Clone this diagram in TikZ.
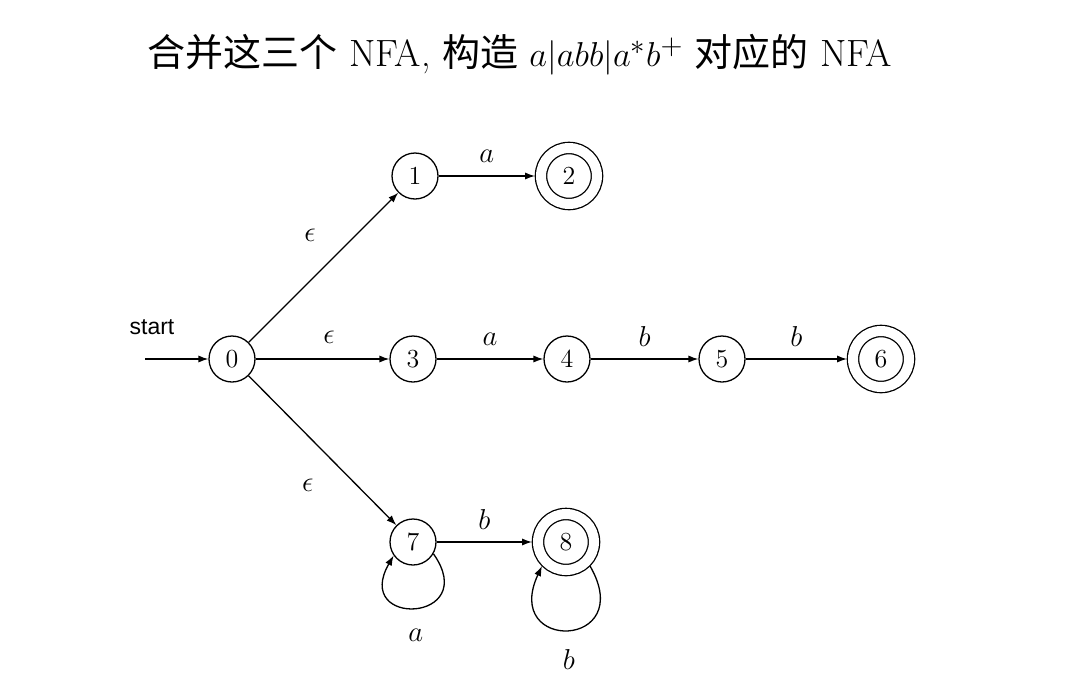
\documentclass[tikz,border=0pt]{standalone}
\usepackage{fontspec}
\newfontfamily\cjk{Noto Sans CJK SC}
\newfontfamily\startfont{Liberation Sans}
\usetikzlibrary{arrows.meta}

\begin{document}
\begin{tikzpicture}[x=0.5pt, y=0.5pt, line width=0.65pt,
                    >={Latex[length=5pt, width=3.6pt]},
                    state/.style={circle, draw, minimum size=23pt, inner sep=0pt, font=\fontsize{13}{15}\selectfont},
                    final/.style={state, double, double distance=5pt, minimum size=28pt, outer sep=3pt},
                    lab/.style={font=\fontsize{13.5}{15}\selectfont}]
\useasboundingbox[fill=white] (0,0) rectangle (1092,-686);

\node[font=\fontsize{19}{23}\selectfont] (title) at (520,-55)
    {{\cjk 合并这三个} NFA, {\cjk 构造} $a|abb|a^*b^+$ {\cjk 对应的} NFA};

\node[state] (n0) at (232,-359) {0};
\node[state] (n1) at (415,-176) {1};
\node[final] (n2) at (569,-176) {2};
\node[state] (n3) at (413,-359) {3};
\node[state] (n4) at (567,-359) {4};
\node[state] (n5) at (722,-359) {5};
\node[final] (n6) at (881,-359) {6};
\node[state] (n7) at (413,-542) {7};
\node[final] (n8) at (566,-542) {8};

\node[font=\startfont\fontsize{11.5}{14}\selectfont] (start) at (152,-327) {start};
\coordinate (in) at (145,-359);
\draw[->] (in) -- (n0);

\draw[->] (n0) -- (n1) node[lab, pos=0.41, above=16pt] {$\epsilon$};
\draw[->] (n0) -- (n3) node[lab, pos=0.55, above=4pt] {$\epsilon$};
\draw[->] (n0) -- (n7) node[lab, pos=0.40, below=18pt] {$\epsilon$};

\draw[->] (n1) -- (n2) node[lab, midway, above=3pt] {$a$};
\draw[->] (n3) -- (n4) node[lab, midway, above=3pt] {$a$};
\draw[->] (n4) -- (n5) node[lab, midway, above=2.5pt] {$b$};
\draw[->] (n5) -- (n6) node[lab, midway, above=2.5pt] {$b$};
\draw[->] (n7) -- (n8) node[lab, midway, above=2.5pt] {$b$};

\draw[->] (n7.-30) .. controls +(-55:42pt) and +(-120:42pt) .. (n7.-145)
    node[lab, pos=0.5, below=7pt] {$a$};
\draw[->] (n8.-45) .. controls +(-60:48pt) and +(-115:48pt) .. (n8.-135)
    node[lab, pos=0.5, below=6pt] {$b$};
\end{tikzpicture}
\end{document}
